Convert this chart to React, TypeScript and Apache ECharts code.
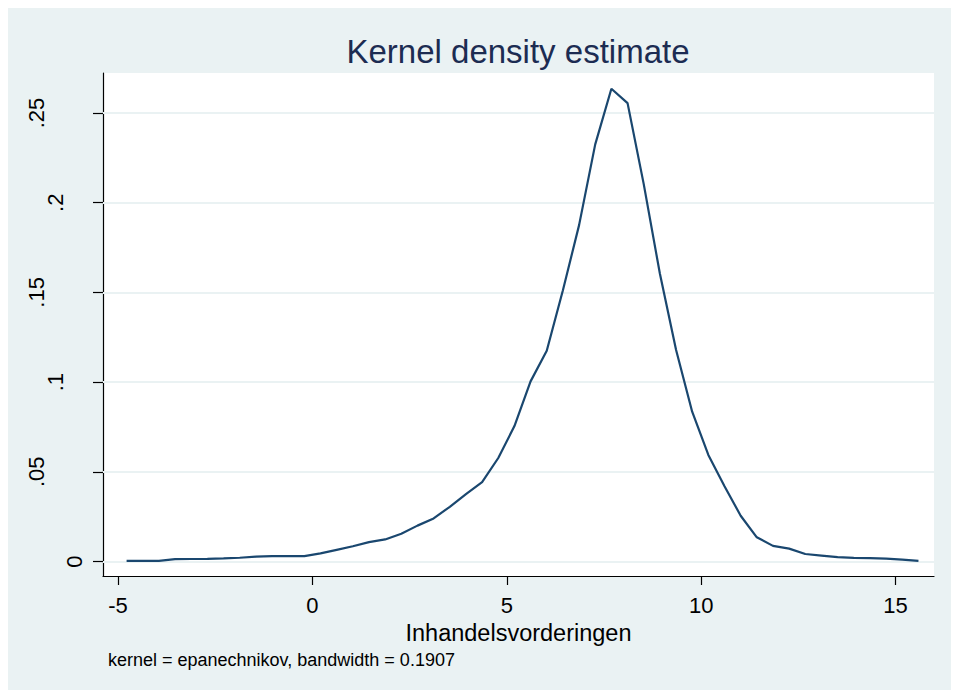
import React, { useEffect, useRef } from "react";
import * as echarts from "echarts";

// Evaluation points (Inhandelsvorderingen)
const xPoints = [
  -4.78, -4.364, -3.949, -3.533, -3.117, -2.702, -2.286, -1.87, -1.454, -1.039,
  -0.623, -0.207, 0.208, 0.624, 1.04, 1.455, 1.871, 2.287, 2.702, 3.118,
  3.534, 3.95, 4.365, 4.781, 5.197, 5.612, 6.028, 6.444, 6.86, 7.275,
  7.691, 8.107, 8.522, 8.938, 9.354, 9.769, 10.185, 10.601, 11.017, 11.432,
  11.848, 12.264, 12.679, 13.095, 13.511, 13.926, 14.342, 14.758, 15.174, 15.59,
];

// Estimated density at each point
const density = [
  0.0003, 0.0003, 0.0004, 0.0013, 0.0014, 0.0015, 0.0017, 0.0021, 0.0027, 0.003,
  0.003, 0.003, 0.0045, 0.0065, 0.0085, 0.0108, 0.0123, 0.0155, 0.02, 0.024,
  0.0305, 0.0375, 0.0442, 0.0577, 0.0755, 0.1004, 0.1175, 0.1512, 0.1875, 0.2325,
  0.2635, 0.2555, 0.2105, 0.1605, 0.118, 0.0835, 0.0594, 0.042, 0.0255, 0.0135,
  0.0087, 0.0072, 0.0042, 0.0033, 0.0024, 0.002, 0.0019, 0.0016, 0.0011, 0.0004,
];

const xTicks = [-5, 0, 5, 10, 15];
const yTicks = [0, 0.05, 0.1, 0.15, 0.2, 0.25];

const titleText = "Kernel density estimate";
const xTitle = "Inhandelsvorderingen";
const noteText = "kernel = epanechnikov, bandwidth = 0.1907";

const FONT = "'Liberation Sans', Arial, Helvetica, sans-serif";
const BG = "#EAF2F3";
const GRID = "#EAF2F3";
const LINE = "#1A476F";

export default function App() {
  const ref = useRef<HTMLDivElement>(null);

  useEffect(() => {
    document.documentElement.style.overflow = "hidden";
    if (!ref.current) return;
    const chart = echarts.init(ref.current, null, { renderer: "svg" });

    const fmtY = (v: number) => {
      const s = v === 0 ? "0" : String(v).replace(/^0/, "");
      const cls = s.length === 1 ? "a" : s.length === 2 ? "b" : "c";
      return `{${cls}|${s}}`;
    };
    const richBase = { fontSize: 22, fontFamily: FONT, color: "#000" };

    chart.setOption({
      animation: false,
      backgroundColor: BG,
      title: [
        {
          text: titleText,
          left: 510,
          top: 27,
          padding: 0,
          textAlign: "center",
          textStyle: {
            fontSize: 33,
            fontWeight: "normal",
            color: "#1C2C52",
            fontFamily: FONT,
          },
        },
        {
          text: noteText,
          left: 100,
          top: 643,
          padding: 0,
          textStyle: {
            fontSize: 18,
            fontWeight: "normal",
            color: "#000",
            fontFamily: FONT,
          },
        },
      ],
      grid: {
        left: 95,
        top: 65,
        right: 25,
        bottom: 114,
        show: true,
        backgroundColor: "#FFFFFF",
        borderWidth: 0,
        containLabel: false,
      },
      xAxis: {
        type: "value",
        min: -5.387,
        max: 15.99,
        axisLine: { show: true, onZero: false, lineStyle: { color: "#000", width: 1.2 } },
        axisTick: {
          show: true,
          length: 9,
          customValues: xTicks,
          lineStyle: { color: "#000", width: 1.2 },
        },
        axisLabel: {
          customValues: xTicks,
          fontSize: 22,
          color: "#000",
          fontFamily: FONT,
          margin: 18,
        },
        splitLine: { show: false },
        name: xTitle,
        nameLocation: "middle",
        nameGap: 39,
        nameTextStyle: { fontSize: 23.5, color: "#000", fontFamily: FONT },
      },
      yAxis: {
        type: "value",
        min: -0.00808,
        max: 0.2723,
        axisLine: { show: true, onZero: false, lineStyle: { color: "#000", width: 1.2 } },
        axisTick: {
          show: true,
          length: 10,
          customValues: yTicks,
          lineStyle: { color: "#000", width: 1.2 },
        },
        axisLabel: {
          customValues: yTicks,
          rotate: 90,
          margin: 18,
          fontSize: 22,
          color: "#000",
          fontFamily: FONT,
          formatter: fmtY,
          rich: {
            a: { ...richBase },
            b: { ...richBase, padding: [0, 0, 19, 0] },
            c: { ...richBase, padding: [0, 0, 38, 0] },
          },
        },
        splitLine: { show: false },
      },
      series: [
        {
          type: "line",
          z: 1,
          data: [],
          silent: true,
          markLine: {
            z: 1,
            silent: true,
            symbol: ["none", "none"],
            label: { show: false },
            lineStyle: { color: GRID, width: 2, type: "solid" },
            emphasis: { disabled: true },
            data: yTicks.map((v) => ({ yAxis: v })),
          },
        },
        {
          type: "line",
          z: 3,
          data: xPoints.map((x, i) => [x, density[i]]),
          showSymbol: false,
          symbol: "none",
          lineStyle: { color: LINE, width: 2.2 },
          itemStyle: { color: LINE },
        },
      ],
    });

    return () => chart.dispose();
  }, []);

  return <div ref={ref} style={{ width: 951, height: 682 }} />;
}
